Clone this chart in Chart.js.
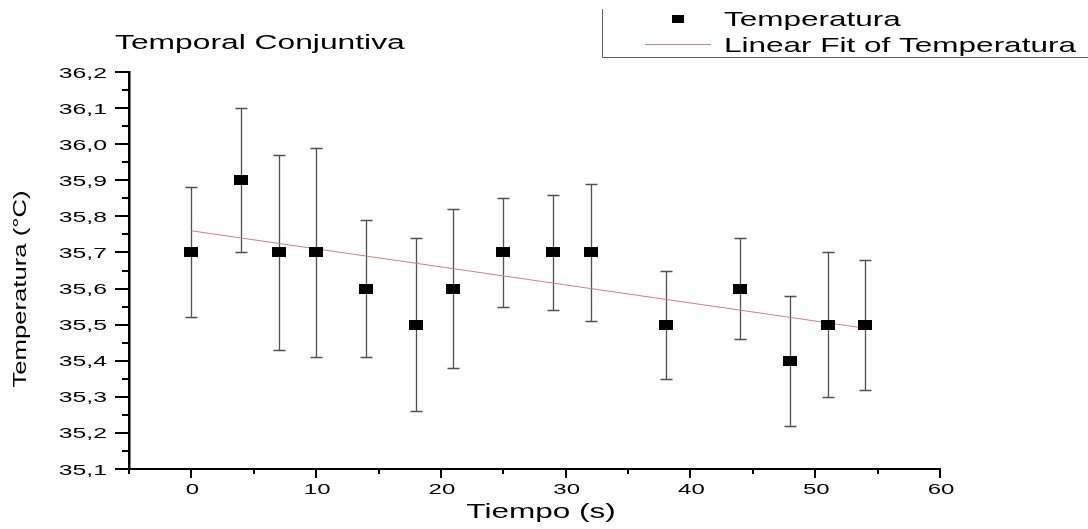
<!DOCTYPE html>
<html>
<head>
<meta charset="utf-8">
<script src="https://cdn.jsdelivr.net/npm/chart.js@4.4.0/dist/chart.umd.min.js"></script>
<style>
  html, body { margin: 0; padding: 0; background: #fff; }
  #wrap { width: 1088px; height: 529px; }
</style>
</head>
<body>
<div id="wrap"><canvas id="chart" width="1088" height="529"></canvas></div>
<script>
// tiempo (s)
const tiempo = [0, 4, 7, 10, 14, 18, 21, 25, 29, 32, 38, 44, 48, 51, 54];
// temperatura media
const temperatura = [35.7, 35.9, 35.7, 35.7, 35.6, 35.5, 35.6, 35.7, 35.7, 35.7, 35.5, 35.6, 35.4, 35.5, 35.5];
// desviacion (barras de error)
const errorT = [0.18, 0.2, 0.27, 0.29, 0.19, 0.24, 0.22, 0.15, 0.16, 0.19, 0.15, 0.14, 0.18, 0.2, 0.18];
// extremos del ajuste lineal
const fitX = [0, 54];
const fitY = [35.76, 35.49];

const yTicks = [35.1, 35.2, 35.3, 35.4, 35.5, 35.6, 35.7, 35.8, 35.9, 36.0, 36.1, 36.2];
const xTicks = [0, 10, 20, 30, 40, 50, 60];

const FONT = "'Liberation Sans', Arial, sans-serif";
const fmtY = v => v.toFixed(1).replace(".", ",");

// marcador rectangular negro
function makeMarker(w, h) {
    const c = document.createElement("canvas");
    c.width = w; c.height = h;
    const cx = c.getContext("2d");
    cx.fillStyle = "#000";
    cx.fillRect(0, 0, w, h);
    return c;
}
const marker = makeMarker(14, 10);

let pts = [];
for (let i = 0; i < tiempo.length; i++) {
    pts.push({x: tiempo[i], y: temperatura[i]});
}
let fitPts = [];
for (let i = 0; i < fitX.length; i++) {
    fitPts.push({x: fitX[i], y: fitY[i]});
}

// texto ensanchado horizontalmente (el original esta estirado)
function wideText(ctx, txt, x, y, size, sx, align) {
    ctx.save();
    ctx.font = size + "px " + FONT;
    ctx.textBaseline = "alphabetic";
    ctx.textAlign = "left";
    let w = ctx.measureText(txt).width * sx;
    let x0 = x;
    if (align === "right") x0 = x - w;
    if (align === "center") x0 = x - w / 2;
    ctx.translate(x0, y);
    ctx.scale(sx, 1);
    ctx.fillText(txt, 0, 0);
    ctx.restore();
}

const extras = {
    id: "extras",
    beforeDatasetsDraw(chart) {
        const ctx = chart.ctx;
        const xs = chart.scales.x, ys = chart.scales.y;
        // barras de error
        ctx.save();
        ctx.strokeStyle = "#505050";
        ctx.lineWidth = 1.3;
        for (let i = 0; i < tiempo.length; i++) {
            let px = Math.round(xs.getPixelForValue(tiempo[i])) + 0.5;
            let top = Math.round(ys.getPixelForValue(temperatura[i] + errorT[i])) + 0.5;
            let bot = Math.round(ys.getPixelForValue(temperatura[i] - errorT[i])) + 0.5;
            ctx.beginPath();
            ctx.moveTo(px, top); ctx.lineTo(px, bot);
            ctx.moveTo(px - 6, top); ctx.lineTo(px + 6, top);
            ctx.moveTo(px - 6, bot); ctx.lineTo(px + 6, bot);
            ctx.stroke();
        }
        ctx.restore();
    },
    afterDraw(chart) {
        const ctx = chart.ctx;
        const xs = chart.scales.x, ys = chart.scales.y;
        const area = chart.chartArea;
        ctx.save();
        ctx.strokeStyle = "#000";
        ctx.fillStyle = "#000";
        // ticks eje y (mayores y menores)
        ctx.lineWidth = 2;
        for (let v = 35.1; v <= 36.2001; v += 0.05) {
            let py = Math.round(ys.getPixelForValue(v));
            let major = Math.abs(Math.round(v * 10) - v * 10) < 0.01;
            ctx.beginPath();
            ctx.moveTo(area.left, py);
            ctx.lineTo(area.left - (major ? 14 : 7), py);
            ctx.stroke();
        }
        // ticks eje x
        for (let v = -5; v <= 60; v += 5) {
            let px = Math.round(xs.getPixelForValue(v));
            let major = v % 10 === 0;
            ctx.beginPath();
            ctx.moveTo(px, area.bottom);
            ctx.lineTo(px, area.bottom + (major ? 9 : 5));
            ctx.stroke();
        }
        // etiquetas de los ticks
        ys.ticks.forEach(t => {
            let py = ys.getPixelForValue(t.value);
            wideText(ctx, fmtY(t.value), 107, py + 5.5, 15, 1.65, "right");
        });
        xs.ticks.forEach(t => {
            let px = xs.getPixelForValue(t.value);
            wideText(ctx, String(t.value), px + 1, 494, 15, 1.6, "center");
        });
        // titulos de ejes
        wideText(ctx, "Tiempo (s)", 541, 518, 21, 1.5, "center");
        ctx.save();
        ctx.translate(26, 289);
        ctx.rotate(-Math.PI / 2);
        wideText(ctx, "Temperatura (°C)", 0, 0, 19, 1.35, "center");
        ctx.restore();
        // titulo
        wideText(ctx, "Temporal Conjuntiva", 115, 49, 19.5, 1.63, "left");
        // leyenda
        ctx.strokeStyle = "#606060";
        ctx.lineWidth = 1;
        ctx.beginPath();
        ctx.moveTo(602.5, 9); ctx.lineTo(602.5, 57.5); ctx.lineTo(1088, 57.5);
        ctx.stroke();
        ctx.drawImage(makeMarker(12, 8), 672, 15);
        ctx.strokeStyle = "#d08080";
        ctx.beginPath();
        ctx.moveTo(645, 44.5); ctx.lineTo(711, 44.5);
        ctx.stroke();
        wideText(ctx, chart.data.datasets[0].label, 724, 26, 21, 1.5, "left");
        wideText(ctx, chart.data.datasets[1].label, 724, 52, 21, 1.5, "left");
        ctx.restore();
    }
};

new Chart(document.getElementById("chart"), {
    type: "scatter",
    data: {
        datasets: [{
            label: "Temperatura",
            data: pts,
            pointStyle: marker,
            pointRadius: 7,
            order: 1
        }, {
            label: "Linear Fit of Temperatura",
            type: "line",
            data: fitPts,
            borderColor: "#d08080",
            borderWidth: 1,
            pointRadius: 0,
            fill: false,
            order: 2
        }]
    },
    options: {
        responsive: false,
        animation: false,
        layout: {padding: {top: 72, right: 148, left: 0, bottom: 0}},
        plugins: {legend: {display: false}, tooltip: {enabled: false}},
        scales: {
            x: {
                type: "linear",
                min: -5, max: 60,
                afterFit: function (s) { s.height = 60; },
                afterBuildTicks: function (s) { s.ticks = xTicks.map(v => ({value: v})); },
                grid: {display: false},
                border: {display: true, color: "#000", width: 2},
                ticks: {display: false}
            },
            y: {
                min: 35.1, max: 36.2,
                afterFit: function (s) { s.width = 129; },
                afterBuildTicks: function (s) { s.ticks = yTicks.map(v => ({value: v})); },
                grid: {display: false},
                border: {display: true, color: "#000", width: 2.5},
                ticks: {display: false}
            }
        }
    },
    plugins: [extras]
});
</script>
</body>
</html>
